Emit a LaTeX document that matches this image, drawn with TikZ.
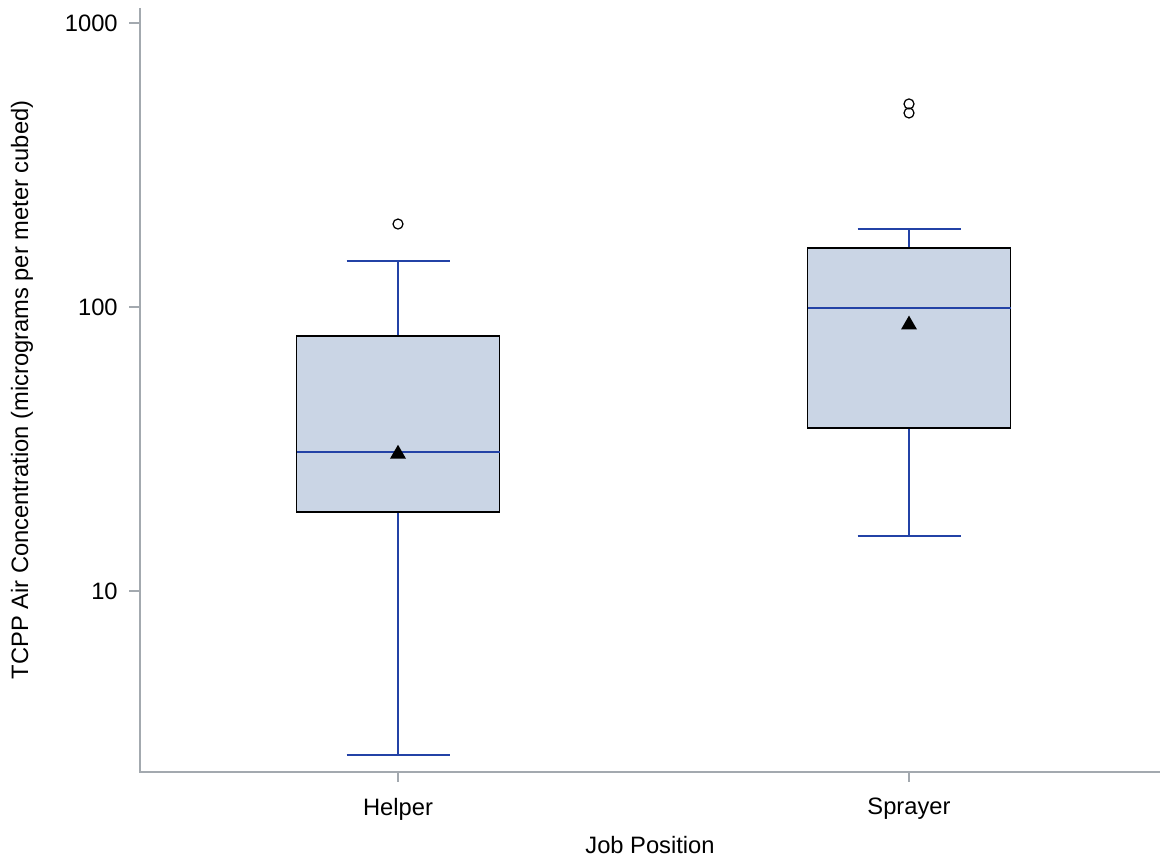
\documentclass[tikz,border=0pt]{standalone}
\usepackage{fontspec}
\setmainfont{Liberation Sans}
\usetikzlibrary{positioning,shapes.geometric}
\definecolor{boxfill}{HTML}{CAD5E5}
\definecolor{whisk}{HTML}{2342A6}
\definecolor{axisgray}{HTML}{A3A9AF}

\begin{document}
\begin{tikzpicture}[x=0.02cm, y=5.68cm, font=\fontsize{13.5}{15}\selectfont,
  whisker/.style={whisk, line width=0.9pt},
  boxbody/.style={fill=boxfill, draw=black, line width=0.8pt},
  axisline/.style={axisgray, line width=0.9pt},
  outlier/.style={circle, draw=black, line width=0.7pt, inner sep=0pt, minimum size=0.2cm},
  meanmark/.style={regular polygon, regular polygon sides=3, fill=black, inner sep=0pt, minimum size=0.37cm}]
\useasboundingbox (0,0.0563) rectangle (1165,3.081);

% axes
\coordinate (origin) at (140,0.3627);
\coordinate (ytop) at (140,3.053);
\coordinate (xend) at (1160,0.3627);
\draw [axisline] (ytop) -- (origin) -- (xend);

\foreach \l [count=\i] in {10, 100, 1000}
  \draw [axisline] (140,\i) -- ++(-11,0)
    node [left=6pt, black, inner sep=0pt] (ytick-\i) {\l};

\node [rotate=90] (ylabel) at (22,{1-(390-591)/284})
  {TCPP Air Concentration (micrograms per meter cubed)};

% boxes: name/x/low/q1/median/q3/high/mean
\foreach \n/\x/\lo/\qa/\md/\qc/\hi/\mn in
  {Helper/398/0.4225/1.278/1.489/1.898/2.162/1.482,
   Sprayer/909/1.194/1.574/1.996/2.208/2.275/1.937}
{
  \draw [axisline] (\x,0.3627) -- ++(0,-0.035)
    node [below=0.2cm, black] (xlab-\n) {\n};
  \draw [whisker] (\x,\qc) -- (\x,\hi);
  \draw [whisker] (\x,\qa) -- (\x,\lo);
  \draw [whisker] (\x-51.5,\hi) -- (\x+51.5,\hi);
  \draw [whisker] (\x-51.5,\lo) -- (\x+51.5,\lo);
  \draw [boxbody] (\x-101.5,\qa) rectangle (\x+101.5,\qc);
  \draw [whisker] (\x-101.5,\md) -- (\x+101.5,\md);
  \node [meanmark] (mean-\n) at (\x,\mn) {};
}

% outliers
\foreach \x/\v [count=\i] in {398/2.292, 909/2.715, 909/2.683}
  \node [outlier] (out-\i) at (\x,\v) {};

\node (xlabel) at (650,{1-(845-591)/284}) {Job Position};
\end{tikzpicture}
\end{document}
